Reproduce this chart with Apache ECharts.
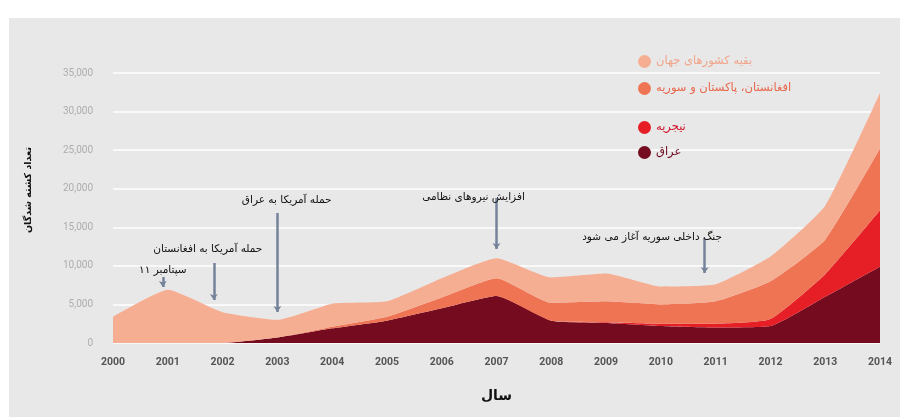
<!DOCTYPE html>
<html>
<head>
<meta charset="utf-8">
<style>
html,body{margin:0;padding:0;background:#ffffff;}
#chart{width:900px;height:417px;}
</style>
<script src="https://cdn.jsdelivr.net/npm/echarts@6/dist/echarts.min.js"></script>
</head>
<body>
<div id="chart"></div>
<script>
// ---- data ----
const years = ['2000','2001','2002','2003','2004','2005','2006','2007','2008','2009','2010','2011','2012','2013','2014'];
const iraq       = [0,0,0,700,1900,2900,4500,6100,2900,2600,2200,2000,2200,6000,9900];
const nigeria    = [0,0,0,0,0,0,0,0,0,100,300,500,900,2900,7300];
const afPakSyria = [0,0,0,0,200,500,1400,2300,2300,2700,2500,2900,4900,4500,8000];
const restWorld  = [3400,6900,4000,2300,3000,2000,2500,2600,3300,3600,2300,2200,3200,4400,7200];
const yTicks = [0,5000,10000,15000,20000,25000,30000,35000];

const seriesNames = ['عراق','نیجریه','افغانستان، پاکستان و سوریه','بقیه کشورهای جهان'];

// ---- annotations (event notes) ----
const eventTexts   = ['۱۱ سپتامبر','حمله آمریکا به افغانستان','حمله آمریکا به عراق','افزایش نیروهای نظامی','جنگ داخلی سوریه آغاز می شود'];
const eventArrowX  = [2000.91, 2001.84, 2003.0, 2007.0, 2010.8];
const eventArrowY0 = [8550, 10370, 16850, 18800, 13600];
const eventArrowY1 = [7260, 5570, 4020, 12180, 9070];
const eventTextX   = [2000.91, 2001.73, 2003.17, 2006.58, 2009.84];
const eventTextY   = [9460, 12180, 18530, 18900, 13740];

const colors = ['#740b1e','#e61f27','#ef7454','#f6ae92'];
const legendTextColors = ['#6e0a1e','#d0162a','#e8664a','#f0a48a'];
const legendTops = [141, 116, 77, 50];

const persian = "'DejaVu Sans', sans-serif";

const dataSets = [iraq, nigeria, afPakSyria, restWorld];
const series = dataSets.map((arr, i) => ({
  name: seriesNames[i],
  type: 'line',
  stack: 'total',
  smooth: 0.15,
  symbol: 'none',
  xAxisIndex: 0,
  lineStyle: { width: 0 },
  areaStyle: { color: colors[i], opacity: 1 },
  itemStyle: { color: colors[i] },
  data: arr
}));

series.push({
  name: 'events',
  type: 'line',
  xAxisIndex: 1,
  data: [],
  silent: true,
  markLine: {
    silent: true,
    symbol: ['none', 'arrow'],
    symbolSize: [6, 6],
    label: { show: false },
    lineStyle: { color: '#74839a', width: 2.5, type: 'solid' },
    data: eventArrowX.map((x, i) => [
      { coord: [x, eventArrowY0[i]] },
      { coord: [x, eventArrowY1[i]] }
    ])
  },
  markPoint: {
    silent: true,
    symbol: 'circle',
    symbolSize: 1,
    itemStyle: { color: 'rgba(0,0,0,0)' },
    label: {
      show: true,
      position: 'inside',
      color: '#111',
      fontSize: 10.5,
      fontFamily: persian,
      formatter: p => p.name
    },
    data: eventTexts.map((t, i) => ({ name: t, coord: [eventTextX[i], eventTextY[i]] }))
  }
});

const legends = seriesNames.map((n, i) => ({
  data: [n],
  left: 633,
  top: legendTops[i],
  orient: 'vertical',
  align: 'left',
  icon: 'circle',
  itemWidth: 13,
  itemHeight: 13,
  itemGap: 6,
  selectedMode: false,
  textStyle: { color: legendTextColors[i], fontSize: 11.5, fontFamily: persian }
}));

const chart = echarts.init(document.getElementById('chart'), null, { renderer: 'canvas' });
chart.setOption({
  backgroundColor: '#ffffff',
  animation: false,
  graphic: [
    { type: 'rect', left: 9, top: 18, z: -10, silent: true,
      shape: { width: 891, height: 399 }, style: { fill: '#e9e8e9' } },
    { type: 'text', left: 24, top: 147, rotation: Math.PI / 2, silent: true,
      style: { text: 'تعداد کشته شدگان', fill: '#111', font: "bold 9.5px 'DejaVu Sans'" } },
  ],
  legend: legends,
  grid: { left: 113, right: 20, top: 73, bottom: 74 },
  xAxis: [{
    type: 'category',
    data: years,
    boundaryGap: false,
    axisLine: { show: false },
    axisTick: { show: false },
    splitLine: { show: false },
    axisLabel: { color: '#555555', fontSize: 10.5, fontWeight: 'bold', fontFamily: 'Roboto', margin: 14 },
    name: 'سال',
    nameLocation: 'middle',
    nameGap: 46,
    nameTextStyle: { color: '#111', fontSize: 14, fontWeight: 'bold', fontFamily: persian }
  }, {
    type: 'value',
    min: 2000, max: 2014,
    show: false
  }],
  yAxis: {
    type: 'value',
    min: 0, max: 35000, interval: 5000,
    axisLine: { show: false },
    axisTick: { show: false },
    splitLine: { show: true, lineStyle: { color: '#ffffff', width: 1.5 } },
    axisLabel: { color: '#adadad', fontSize: 10, fontFamily: 'Roboto', margin: 20,
                 formatter: v => yTicks.indexOf(v) >= 0 ? v.toLocaleString('en-US') : '' }
  },
  series: series
});
</script>
</body>
</html>
